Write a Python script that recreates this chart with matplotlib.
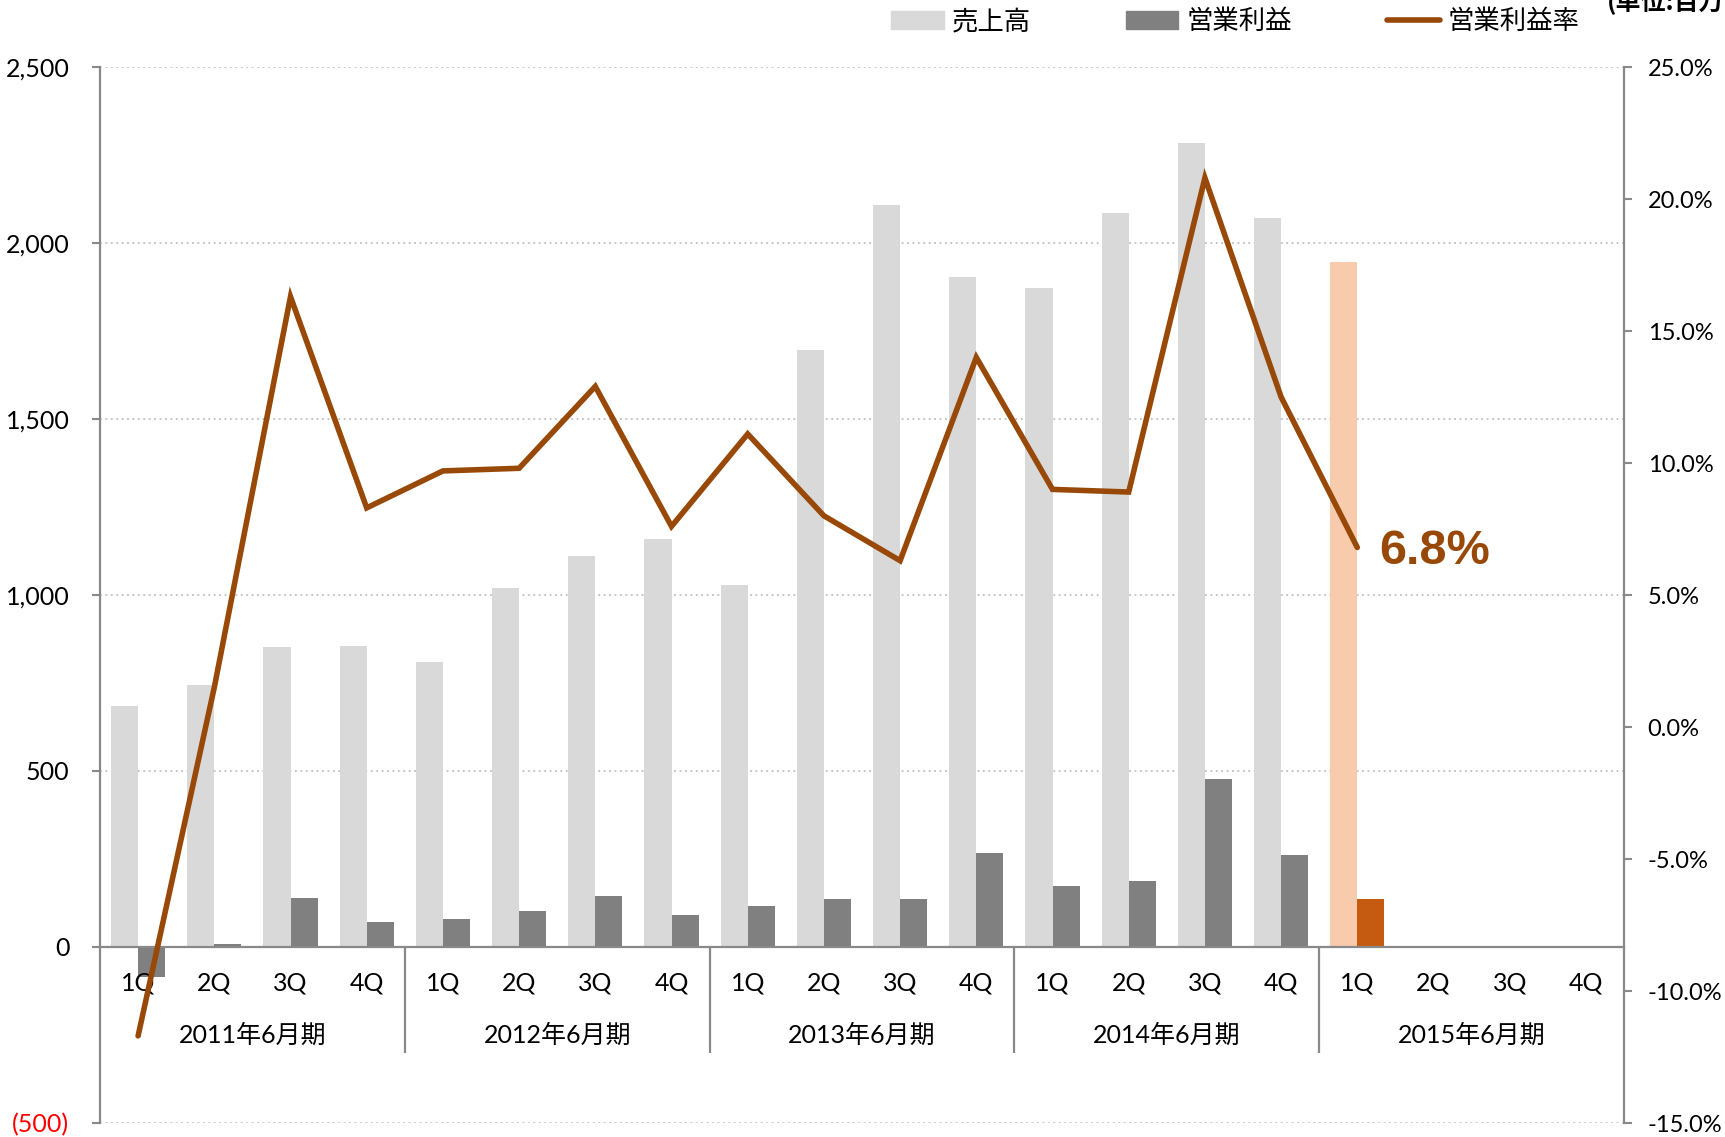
import matplotlib
matplotlib.use('Agg')
import matplotlib.pyplot as plt
from matplotlib.patches import Patch
from matplotlib.lines import Line2D

plt.rcParams['font.family'] = ['Lato', 'Noto Sans CJK JP', 'DejaVu Sans']

# データ (単位:百万円)
years = ['2011年6月期', '2012年6月期', '2013年6月期', '2014年6月期', '2015年6月期']
quarters = ['1Q', '2Q', '3Q', '4Q']
sales = [685, 744, 853, 856, 810, 1020, 1111, 1158,
         1029, 1696, 2109, 1902, 1871, 2084, 2284, 2071, 1946]
op_profit = [-84, 9, 140, 72, 80, 103, 144, 91,
             116, 135, 135, 266, 172, 188, 476, 260, 135]
op_margin = [-11.7, 1.5, 16.3, 8.3, 9.7, 9.8, 12.9, 7.6,
             11.1, 8.0, 6.3, 14.0, 9.0, 8.9, 20.8, 12.5, 6.8]
left_ticks = [-500, 0, 500, 1000, 1500, 2000, 2500]
left_labels = ['(500)', '0', '500', '1,000', '1,500', '2,000', '2,500']
right_ticks = [-15, -10, -5, 0, 5, 10, 15, 20, 25]

c_sales = '#d9d9d9'
c_profit = '#808080'
c_sales_new = '#f8cbad'
c_profit_new = '#c55a11'
c_line = '#984807'
c_axis = '#898989'

fig = plt.figure(figsize=(17.25, 11.37), dpi=100)
ax = fig.add_axes([100 / 1725, 14 / 1137, 1524 / 1725, 1056 / 1137])

n_cat = len(years) * len(quarters)
x = list(range(len(sales)))
w = 0.355
sales_colors = [c_sales] * 16 + [c_sales_new]
profit_colors = [c_profit] * 16 + [c_profit_new]
ax.bar([i - 0.1775 for i in x], sales, width=w, color=sales_colors, zorder=2)
ax.bar([i + 0.1775 for i in x], op_profit, width=w, color=profit_colors, zorder=2)

ax.set_xlim(-0.5, n_cat - 0.5)
ax.set_ylim(-500, 2500)
ax.set_yticks(left_ticks)
ax.set_yticklabels(left_labels, fontsize=18)
ax.get_yticklabels()[0].set_color('red')
ax.tick_params(axis='y', length=6, width=1.5, color=c_axis, pad=16)
ax.set_xticks([])
ax.yaxis.grid(True, linestyle=(0, (1, 2)), color='#bfbfbf', linewidth=1.3, zorder=0)
ax.set_axisbelow(True)

for s in ['top', 'right']:
    ax.spines[s].set_visible(False)
ax.spines['left'].set_color(c_axis)
ax.spines['left'].set_linewidth(1.6)
ax.spines['bottom'].set_position(('data', 0))
ax.spines['bottom'].set_color(c_axis)
ax.spines['bottom'].set_linewidth(1.6)
ax.spines['bottom'].set_zorder(3)

# 四半期と年度のラベル
for g, year in enumerate(years):
    for q, qname in enumerate(quarters):
        ax.text(g * 4 + q, -102, qname, ha='center', va='center', fontsize=18)
    ax.text(g * 4 + 1.5, -250, year, ha='center', va='center', fontsize=18)
ax.vlines([3.5, 7.5, 11.5, 15.5], -300, 0, color=c_axis, linewidth=1.6)

# 営業利益率
ax2 = ax.twinx()
ax2.plot(x, op_margin, color=c_line, linewidth=4, solid_capstyle='round',
         solid_joinstyle='miter', zorder=5)
ax2.set_ylim(-15, 25)
ax2.set_yticks(right_ticks)
ax2.set_yticklabels(['%.1f%%' % v for v in right_ticks], fontsize=17)
ax2.tick_params(axis='y', length=6, width=1.5, color=c_axis, pad=11)
for s in ['top', 'left', 'bottom']:
    ax2.spines[s].set_visible(False)
ax2.spines['right'].set_color(c_axis)
ax2.spines['right'].set_linewidth(1.6)

ax2.annotate('%.1f%%' % op_margin[-1], (x[-1], op_margin[-1]),
             xytext=(16, -3), textcoords='offset points', ha='left', va='center',
             fontsize=35, fontweight='bold', color=c_line, family='Liberation Sans')

handles = [Patch(color=c_sales), Patch(color=c_profit),
           Line2D([], [], color=c_line, linewidth=4, solid_capstyle='round')]
fig.legend(handles, ['売上高', '営業利益', '営業利益率'], loc='center',
           bbox_to_anchor=(0.716, 0.981), ncol=3, frameon=False,
           prop={'family': 'Noto Sans CJK JP', 'size': 19},
           handlelength=2.0, handleheight=0.7, handletextpad=0.3, columnspacing=3.6)

fig.text(1607 / 1725, 1 - 2 / 1137, '(単位:百万円)', ha='left', va='center',
         fontsize=18, fontweight='bold', family='Noto Sans CJK JP')

fig.savefig('out.png', dpi=100)
